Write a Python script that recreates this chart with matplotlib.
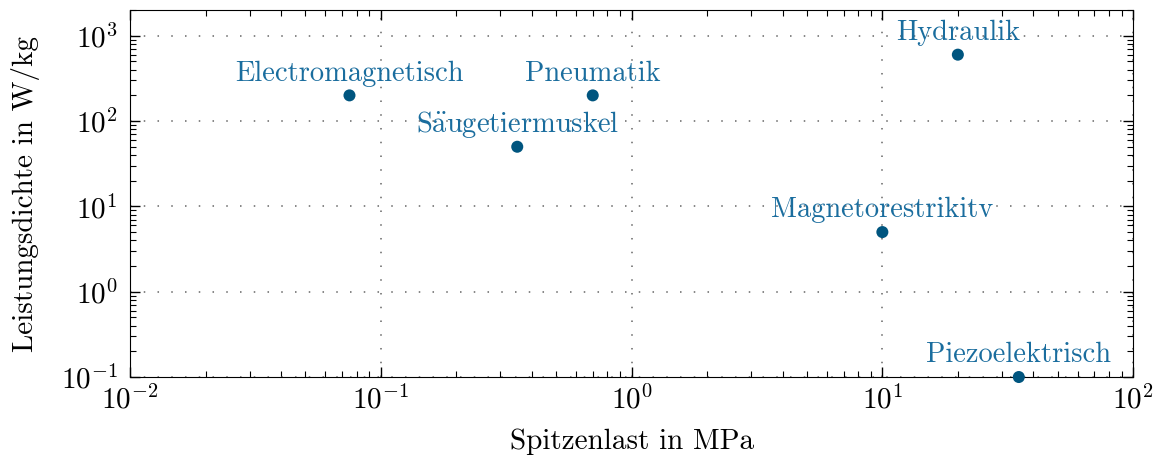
import matplotlib.pyplot as plt
from matplotlib.ticker import LogLocator, NullFormatter

# Antriebsarten: Spitzenlast (MPa) vs. Leistungsdichte (W/kg)
names = ['Electromagnetisch', 'Pneumatik', r'S$\ddot{\rm a}$ugetiermuskel', 'Hydraulik',
         'Magnetorestrikitv', 'Piezoelektrisch']
peak_load = [0.075, 0.7, 0.35, 20, 10, 35]
power_density = [200, 200, 50, 600, 5, 0.1]

plt.rcParams['font.family'] = ['cmr10', 'DejaVu Serif']
plt.rcParams['mathtext.fontset'] = 'cm'
plt.rcParams['axes.formatter.use_mathtext'] = True

dot_color = '#00557f'
text_color = '#1a6d9e'

fig = plt.figure(figsize=(11.61, 4.57), dpi=100)
ax = fig.add_axes([0.112, 0.175, 0.864, 0.803])

ax.scatter(peak_load, power_density, s=75, color=dot_color, zorder=3,
           clip_on=False, edgecolors='none')
for name, x, y in zip(names, peak_load, power_density):
    ax.annotate(name, (x, y), xytext=(0, 10.5), textcoords='offset points',
                ha='center', va='baseline', color=text_color, fontsize=20.5)

ax.set_xscale('log')
ax.set_yscale('log')
ax.set_xlim(1e-2, 1e2)
ax.set_ylim(1e-1, 2e3)

for axis in (ax.xaxis, ax.yaxis):
    axis.set_major_locator(LogLocator(base=10, numticks=20))
    axis.set_minor_locator(LogLocator(base=10, subs=range(2, 10), numticks=20))
    axis.set_minor_formatter(NullFormatter())

ax.tick_params(which='both', direction='in', top=True, right=True,
               labelsize=21)
ax.tick_params(axis='y', pad=9)
ax.tick_params(axis='x', pad=6)
ax.tick_params(which='major', length=7, width=1)
ax.tick_params(which='minor', length=4, width=0.8)

ax.grid(True, which='major', color='#666666', linestyle=(0, (1, 8)),
        linewidth=1.1)
ax.set_axisbelow(True)

ax.set_xlabel('Spitzenlast in MPa', fontsize=21, labelpad=10)
ax.set_ylabel('Leistungsdichte in W/kg', fontsize=21, labelpad=15)

fig.savefig('out.png', dpi=100)
